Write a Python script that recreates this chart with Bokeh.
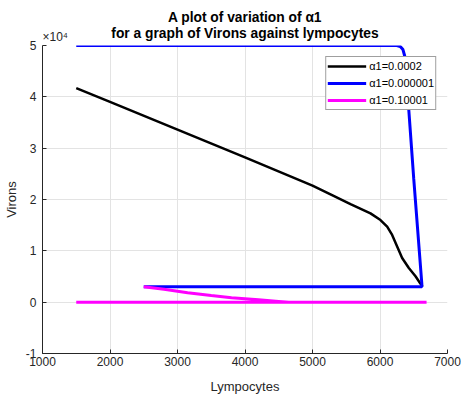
import numpy as np
from bokeh.plotting import figure
from bokeh.models import Range1d, FixedTicker, Legend, LegendItem, Title
from bokeh.embed import file_html
from bokeh.resources import INLINE

# ---- data ----
black_x = [1500, 2000, 3000, 4000, 5000, 5267, 5563, 5859, 6007, 6106, 6180, 6254, 6328, 6427, 6526, 6600, 6630]
black_y = [41700, 39000, 33600, 28200, 22700, 21000, 19100, 17300, 16000, 14700, 13100, 10850, 8600, 6670, 5040, 3600, 3000]

blue_x = [1500, 6250, 6300, 6340, 6365, 6380, 6500, 6620, 6620, 2500]
blue_y = [50000, 50000, 49800, 49200, 48000, 46000, 24000, 3500, 3000, 3000]

magenta_x = [1500, 6690, np.nan, 2500, 2800, 3150, 3500, 3800, 4200, 4500, 4650]
magenta_y = [0, 0, np.nan, 3000, 2500, 1850, 1300, 850, 450, 150, 0]

labels = ["\u03b11=0.0002", "\u03b11=0.000001", "\u03b11=0.10001"]
x_ticks = [1000, 2000, 3000, 4000, 5000, 6000, 7000]
y_ticks = [-10000, 0, 10000, 20000, 30000, 40000, 50000]
y_tick_labels = ["-1", "0", "1", "2", "3", "4", "5"]
title_lines = ["A plot of variation of \u03b11", "for a graph of Virons against lympocytes"]
exponent_text = "\u00d710\u2074"

FONT = "Liberation Sans"
AX = "#262626"

p = figure(width=461, height=396, output_backend="svg", toolbar_location=None, title=None,
           x_range=Range1d(1000, 7000), y_range=Range1d(-10000, 50000),
           min_border_left=42, min_border_right=14, min_border_top=45, min_border_bottom=42)
p.outline_line_color = None
p.background_fill_color = "white"
p.border_fill_color = "white"

# title line 2 (nearest the frame), title line 1, then the exponent marker pulled back down
p.add_layout(Title(text=title_lines[1], align="center", standoff=9,
                   text_font=FONT, text_font_size="13.8px", text_font_style="bold",
                   text_color="#000000"), "above")
p.add_layout(Title(text=title_lines[0], align="center", standoff=-11,
                   text_font=FONT, text_font_size="13.8px", text_font_style="bold",
                   text_color="#000000"), "above")
p.add_layout(Title(text=exponent_text, align="left", offset=0, standoff=-61,
                   text_font=FONT, text_font_size="12px", text_font_style="normal",
                   text_color=AX), "above")

for ax in (p.xaxis[0], p.yaxis[0]):
    ax.axis_line_color = AX
    ax.major_tick_line_color = AX
    ax.minor_tick_line_color = None
    ax.major_tick_in = 4
    ax.major_tick_out = 0
    ax.major_label_text_font = FONT
    ax.major_label_text_font_size = "12px"
    ax.major_label_text_color = AX
    ax.axis_label_text_font = FONT
    ax.axis_label_text_font_size = "13px"
    ax.axis_label_text_font_style = "normal"
    ax.axis_label_text_color = AX

p.xaxis.ticker = FixedTicker(ticks=x_ticks)
p.yaxis.ticker = FixedTicker(ticks=y_ticks)
p.yaxis.major_label_overrides = {t: l for t, l in zip(y_ticks, y_tick_labels)}
p.xaxis.axis_label = "Lympocytes"
p.yaxis.axis_label = "Virons"
p.xaxis.major_label_standoff = 3
p.yaxis.major_label_standoff = 6
p.xaxis.axis_label_standoff = 10
p.xaxis.axis_label_text_line_height = 0.9
p.yaxis.axis_label_standoff = 4

p.xgrid.ticker = FixedTicker(ticks=x_ticks)
p.ygrid.ticker = FixedTicker(ticks=y_ticks)
for g in (p.xgrid[0], p.ygrid[0]):
    g.grid_line_color = "#e3e3e3"
    g.grid_line_width = 1

r_black = p.line(black_x, black_y, line_color="#000000", line_width=2.5)
r_blue = p.line(blue_x, blue_y, line_color="#0000ff", line_width=3)
r_mag = p.line(magenta_x, magenta_y, line_color="#ff00ff", line_width=3)

legend = Legend(items=[LegendItem(label=labels[0], renderers=[r_black]),
                       LegendItem(label=labels[1], renderers=[r_blue]),
                       LegendItem(label=labels[2], renderers=[r_mag])],
                location="top_right")
legend.margin = 11
legend.padding = 1
legend.spacing = 1
legend.label_height = 16
legend.glyph_height = 16
legend.glyph_width = 39
legend.label_standoff = 3
legend.label_text_font = FONT
legend.label_text_font_size = "11px"
legend.label_text_color = "#000000"
legend.border_line_color = "#404040"
legend.border_line_width = 1
legend.background_fill_color = "white"
legend.background_fill_alpha = 1
p.add_layout(legend)

open("out.html", "w").write(file_html(p, INLINE))
